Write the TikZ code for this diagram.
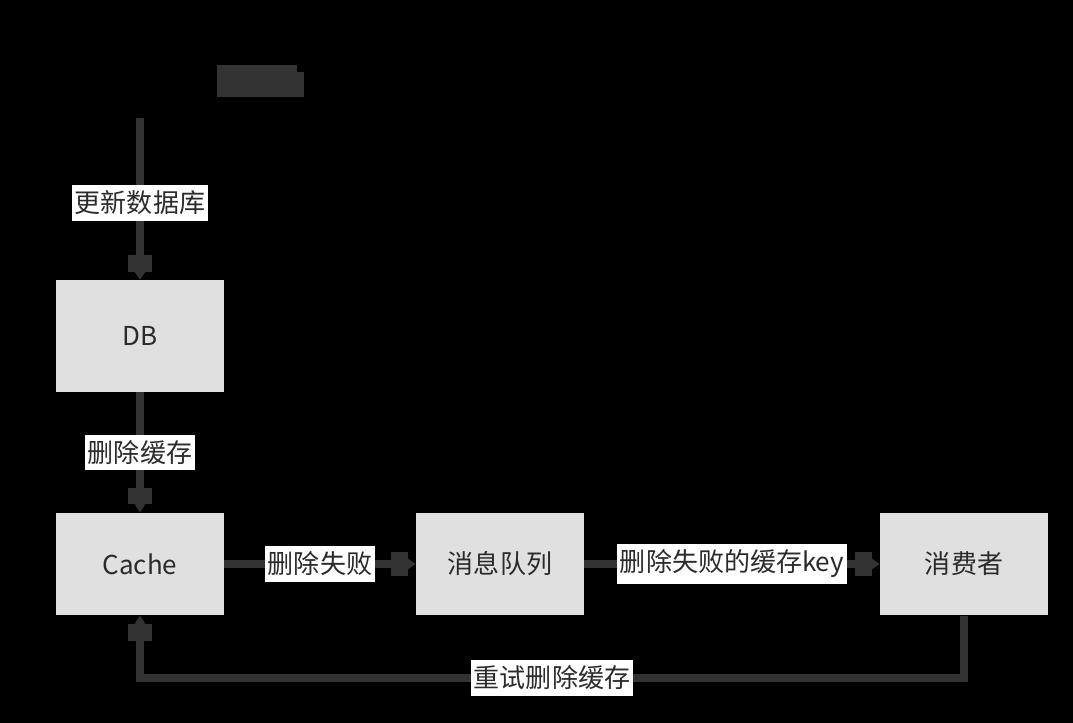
\documentclass[tikz,border=0pt]{standalone}
\usepackage{fontspec}
\setmainfont{Noto Sans CJK SC}
\usetikzlibrary{arrows.meta,positioning}

\definecolor{boxgray}{HTML}{E0E0E0}
\definecolor{linegray}{HTML}{333333}
\definecolor{textgray}{HTML}{2B2B2B}

\tikzset{
  stepbox/.style={fill=boxgray, text=textgray, minimum width=4.2cm, minimum height=2.57cm,
    font=\fontsize{18.5}{22}\selectfont},
  flow/.style={draw=linegray, line width=0.18cm,
    -{Square[length=0.42cm,width=0.58cm]Triangle[length=0.2cm,width=0.26cm]}},
  lbl/.style={fill=white, text=textgray, inner xsep=2pt, inner ysep=4pt,
    font=\fontsize{18.5}{22}\selectfont}
}

\begin{document}
\begin{tikzpicture}[x=0.025cm, y=-0.025cm]
    \fill[black] (0,0) rectangle (1073,723);
    % top marker
    \fill[linegray] (217,65) rectangle (297,97);
    \fill[linegray] (297,72) rectangle (304,97);

    \node[stepbox, minimum height=2.8cm] (db) at (140,336) {DB};
    \node[stepbox] (cache) at (140,564) {Cache};
    \node[stepbox] (mq) at (500,564) {消息队列};
    \node[stepbox] (con) at (964,564) {消费者};

    \coordinate (start) at (140,118);
    \coordinate (back) at (964,678);

    \draw[flow] (start) -- node[lbl, yshift=-0.1cm] (l1) {更新数据库} (db);
    \draw[flow] (db) -- node[lbl] (l2) {删除缓存} (cache);
    \draw[flow] (cache) -- node[lbl] (l3) {删除失败} (mq);
    \draw[flow] (mq) -- node[lbl] (l4) {删除失败的缓存key} (con);
    \draw[flow] (con.south) -- (back) -| node[lbl, pos=0.25] (l5) {重试删除缓存} (cache.south);
\end{tikzpicture}
\end{document}
